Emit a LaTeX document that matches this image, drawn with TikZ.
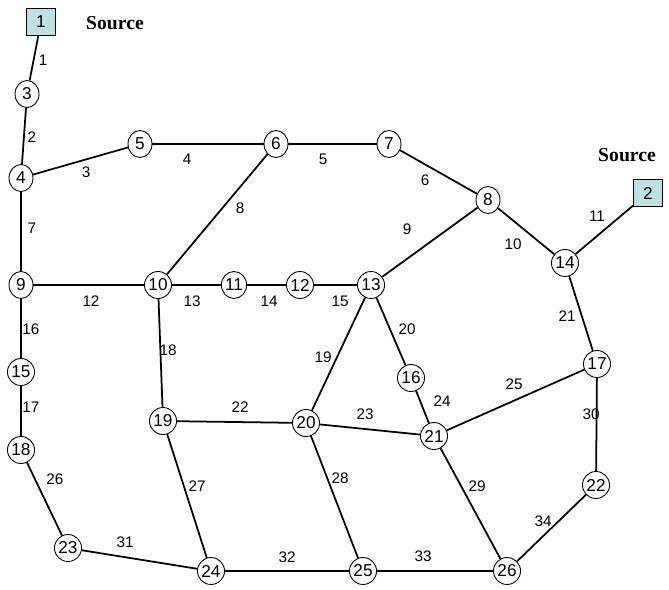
\documentclass[tikz,border=0pt]{standalone}
\usepackage{fontspec}
\setmainfont{Liberation Sans}
\newfontfamily\srcfont{Liberation Serif}
\usepackage{xcolor}
\usetikzlibrary{shapes.geometric}

\definecolor{srcfill}{RGB}{190,226,228}

\begin{document}
\begin{tikzpicture}[
  x=0.02cm, y=-0.02cm,
  font=\fontsize{8.7}{10}\selectfont,
  bus/.style={draw,ellipse,fill=white,line width=0.5pt,minimum width=0.48cm,minimum height=0.54cm,inner sep=0pt,font=\fontsize{9.8}{11}\selectfont},
  feeder/.style={draw,rectangle,fill=srcfill,line width=0.5pt,minimum width=0.58cm,minimum height=0.55cm,inner sep=0pt,font=\fontsize{9.8}{11}\selectfont},
  srclabel/.style={font=\srcfont\bfseries\fontsize{11.2}{13}\selectfont},
  line/.style={line width=1pt},
  lbl/.style={inner sep=0pt}
]
\useasboundingbox (0,0) rectangle (669,589);

% Buses of the network (positions in pixels of the original sketch)
\node[feeder] (s1) at (41,22) {1};
\node[feeder] (s2) at (648,193) {2};
\node[srclabel] (src1) at (115,23) {Source};
\node[srclabel] (src2) at (627,155) {Source};

\node[bus] (n3) at (27,94) {3};
\node[bus] (n4) at (21,178) {4};
\node[bus] (n5) at (140,144) {5};
\node[bus] (n6) at (276,144) {6};
\node[bus] (n7) at (389,144) {7};
\node[bus] (n8) at (488,200) {8};
\node[bus] (n9) at (21,285) {9};
\node[bus] (n10) at (158,285) {10};
\node[bus] (n11) at (234,285) {11};
\node[bus] (n12) at (300,285) {12};
\node[bus] (n13) at (371,285) {13};
\node[bus] (n14) at (565,263) {14};
\node[bus] (n15) at (21,372) {15};
\node[bus] (n16) at (411,378) {16};
\node[bus] (n17) at (597,364) {17};
\node[bus] (n18) at (21,450) {18};
\node[bus] (n19) at (163,421) {19};
\node[bus] (n20) at (306,423) {20};
\node[bus] (n21) at (434,436) {21};
\node[bus] (n22) at (596,485) {22};
\node[bus] (n23) at (68,548) {23};
\node[bus] (n24) at (211,571) {24};
\node[bus] (n25) at (363,571) {25};
\node[bus] (n26) at (507,571) {26};

% Branches, drawn in the order of their numbers
\foreach \a/\b in {s1/n3,n3/n4,n4/n5,n5/n6,n6/n7,n7/n8,n4/n9,n6/n10,n13/n8,n8/n14,
  n14/s2,n9/n10,n10/n11,n11/n12,n12/n13,n9/n15,n15/n18,n10/n19,n13/n20,n13/n16,
  n14/n17,n19/n20,n20/n21,n16/n21,n21/n17,n18/n23,n19/n24,n20/n25,n21/n26,n17/n22,
  n23/n24,n24/n25,n25/n26,n26/n22}{
  \draw[line] (\a) -- (\b);
}

% Branch numbers
\foreach \n/\x/\y in {1/43/60,2/32/137,3/86/172,4/187/159,5/323/159,6/425/180,
  7/32/228,8/240/208,9/407/229,10/513/244,11/597/216,12/91/301,13/192/301,
  14/269/301,15/340/301,16/31/329,17/31/407,18/168/350,19/323/357,20/407/329,
  21/567/316,22/240/407,23/365/414,24/442/401,25/514/384,26/55/479,27/197/486,
  28/340/478,29/477/486,30/591/414,31/125/542,32/287/557,33/423/556,34/543/521}{
  \node[lbl] (b\n) at (\x,\y) {\n};
}

\end{tikzpicture}
\end{document}
